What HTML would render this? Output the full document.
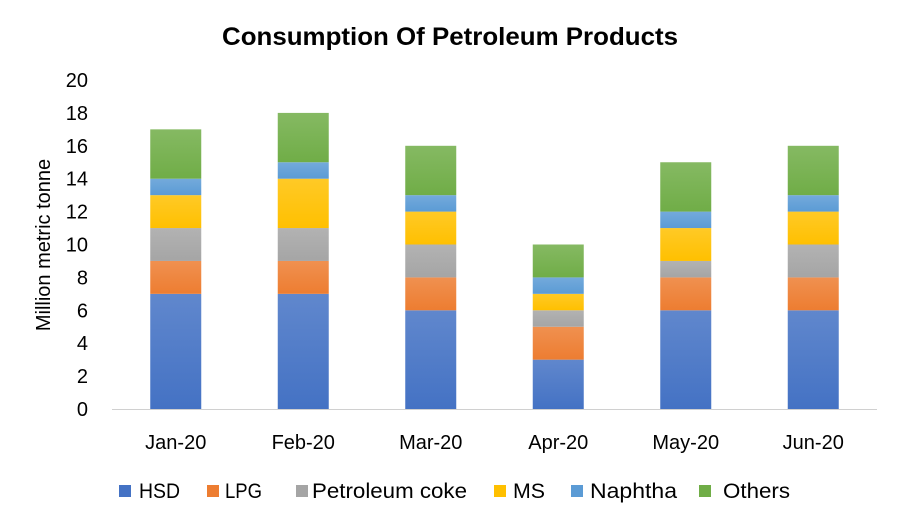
<!DOCTYPE html>
<html><head><meta charset="utf-8"><style>
body{margin:0;background:#fff;font-family:"Liberation Sans",sans-serif}
</style></head><body>
<svg id="chart" width="900" height="525" xmlns="http://www.w3.org/2000/svg" font-family="Liberation Sans, sans-serif">
<defs></defs>
<text x="450" y="45" text-anchor="middle" font-size="25" font-weight="bold" fill="#000" textLength="456" lengthAdjust="spacingAndGlyphs">Consumption Of Petroleum Products</text>
<text transform="translate(50,245) rotate(-90)" text-anchor="middle" font-size="20" fill="#000">Million metric tonne</text>
<g id="yticks"></g><g id="bars"></g><g id="xlabels"></g><g id="legend"></g>
<line x1="112" y1="409.5" x2="877" y2="409.5" stroke="#d0d0d0" stroke-width="1"/>
</svg>
<script>
const categories=["Jan-20","Feb-20","Mar-20","Apr-20","May-20","Jun-20"];
const seriesNames=["HSD","LPG","Petroleum coke","MS","Naphtha","Others"];
const hsd=[7,7,6,3,6,6];
const lpg=[2,2,2,2,2,2];
const coke=[2,2,2,1,1,2];
const ms=[2,3,2,1,2,2];
const naphtha=[1,1,1,1,1,1];
const others=[3,3,3,2,3,3];
const yTicks=[0,2,4,6,8,10,12,14,16,18,20];
const series=[hsd,lpg,coke,ms,naphtha,others];
const colors=["#4472C4","#ED7D31","#A5A5A5","#FFC000","#5B9BD5","#70AD47"];
const NS="http://www.w3.org/2000/svg";
const svg=document.getElementById('chart');
const x0=112,x1=877,yBase=409,yTop=80,yMax=20;
const y=v=>yBase-(yBase-yTop)*v/yMax;
const band=(x1-x0)/categories.length;
const xc=i=>x0+band*(i+0.5);
const bw=51;
const defs=svg.querySelector('defs');
colors.forEach((c,k)=>{const g=document.createElementNS(NS,'linearGradient');g.id='g'+k;g.setAttribute('x1','0');g.setAttribute('y1','0');g.setAttribute('x2','0');g.setAttribute('y2','1');
const s1=document.createElementNS(NS,'stop');s1.setAttribute('offset','0');s1.setAttribute('stop-color',c);s1.setAttribute('stop-opacity','0.85');
const s2=document.createElementNS(NS,'stop');s2.setAttribute('offset','1');s2.setAttribute('stop-color',c);
g.appendChild(s1);g.appendChild(s2);defs.appendChild(g);});
const yt=document.getElementById('yticks');
yTicks.forEach(t=>{const e=document.createElementNS(NS,'text');


e.setAttribute('x',88);e.setAttribute('y',y(t)+7);e.setAttribute('text-anchor','end');e.setAttribute('font-size','20');e.textContent=t;yt.appendChild(e);});
const bg=document.getElementById('bars');
categories.forEach((c,i)=>{let acc=0;series.forEach((s,k)=>{const v=s[i];const r=document.createElementNS(NS,'rect');


r.setAttribute('x',xc(i)-bw/2);r.setAttribute('y',y(acc+v));r.setAttribute('width',bw);r.setAttribute('height',y(acc)-y(acc+v));r.setAttribute('fill','url(#g'+k+')');bg.appendChild(r);acc+=v;});
const e=document.createElementNS(NS,'text');


e.setAttribute('x',xc(i));e.setAttribute('y',449);e.setAttribute('text-anchor','middle');e.setAttribute('font-size','20');e.textContent=c;document.getElementById('xlabels').appendChild(e);});
const lg=document.getElementById('legend');
const lx=[119,207,296,494,571,699];
const tx=[139,225,312,513,590,723];
const lw=[41,37,155,32,87,67];
seriesNames.forEach((n,k)=>{const r=document.createElementNS(NS,'rect');


r.setAttribute('x',lx[k]);r.setAttribute('y',485);r.setAttribute('width',12);r.setAttribute('height',12);r.setAttribute('fill',colors[k]);lg.appendChild(r);
const t=document.createElementNS(NS,'text');


t.setAttribute('x',tx[k]);t.setAttribute('y',498);t.setAttribute('font-size','21');
t.setAttribute('textLength',lw[k]);t.setAttribute('lengthAdjust','spacingAndGlyphs');
t.textContent=n;lg.appendChild(t);});
</script>
</body></html>
